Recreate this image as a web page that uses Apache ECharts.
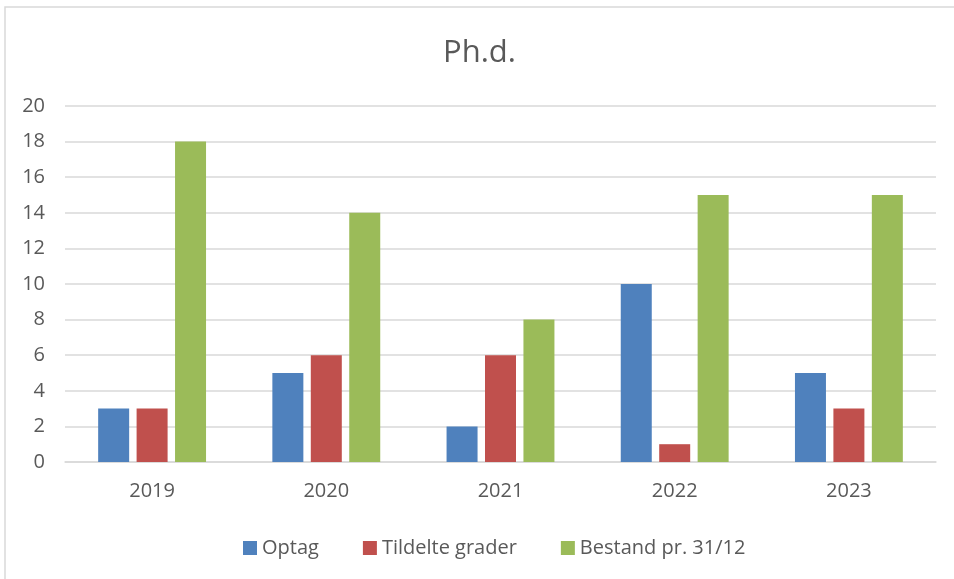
<!DOCTYPE html>
<html><head><meta charset="utf-8">
<script src="https://cdn.jsdelivr.net/npm/echarts@6/dist/echarts.min.js"></script>
<style>html,body{margin:0;padding:0;background:#fff}#c{width:954px;height:579px}</style>
</head><body><div id="c"></div>
<script>
var categories = ['2019','2020','2021','2022','2023'];
var optag = [3,5,2,10,5];
var tildelte = [3,6,6,1,3];
var bestand = [18,14,8,15,15];
var yTicks = [0,2,4,6,8,10,12,14,16,18,20];

var chart = echarts.init(document.getElementById('c'));
var font = "'Open Sans', 'Liberation Sans', sans-serif";
function s(name, data, color){
  return {name:name,type:'bar',data:data,barWidth:31,barGap:'24%',itemStyle:{color:color},animation:false};
}
chart.setOption({
  animation:false,
  textStyle:{fontFamily:font},
  graphic:[{type:'rect',shape:{x:5,y:7,width:980,height:620},style:{fill:'none',stroke:'#d9d9d9',lineWidth:1.5},silent:true}],
  title:{text:'Ph.d.',left:438,top:33,textStyle:{fontFamily:font,fontSize:31,fontWeight:'normal',color:'#595959'}},
  legend:{bottom:16,left:238,itemWidth:14,itemHeight:14,itemGap:44,icon:'rect',
    textStyle:{fontFamily:font,fontSize:20,color:'#595959'},
    data:['Optag','Tildelte grader','Bestand pr. 31/12']},
  grid:{left:65,right:18,top:106,bottom:117},
  xAxis:{type:'category',data:categories,axisLine:{lineStyle:{color:'#d9d9d9',width:1.5}},axisTick:{show:false},
    axisLabel:{color:'#595959',fontSize:20,margin:19,fontFamily:font}},
  yAxis:{type:'value',min:yTicks[0],max:yTicks[yTicks.length-1],interval:2,axisLine:{show:false},axisTick:{show:false},
    splitLine:{lineStyle:{color:'#d9d9d9',width:1.5}},
    axisLabel:{color:'#595959',fontSize:20,margin:20,fontFamily:font}},
  series:[s('Optag',optag,'#4f81bd'),s('Tildelte grader',tildelte,'#c0504d'),s('Bestand pr. 31/12',bestand,'#9bbb59')]
});
</script></body></html>
